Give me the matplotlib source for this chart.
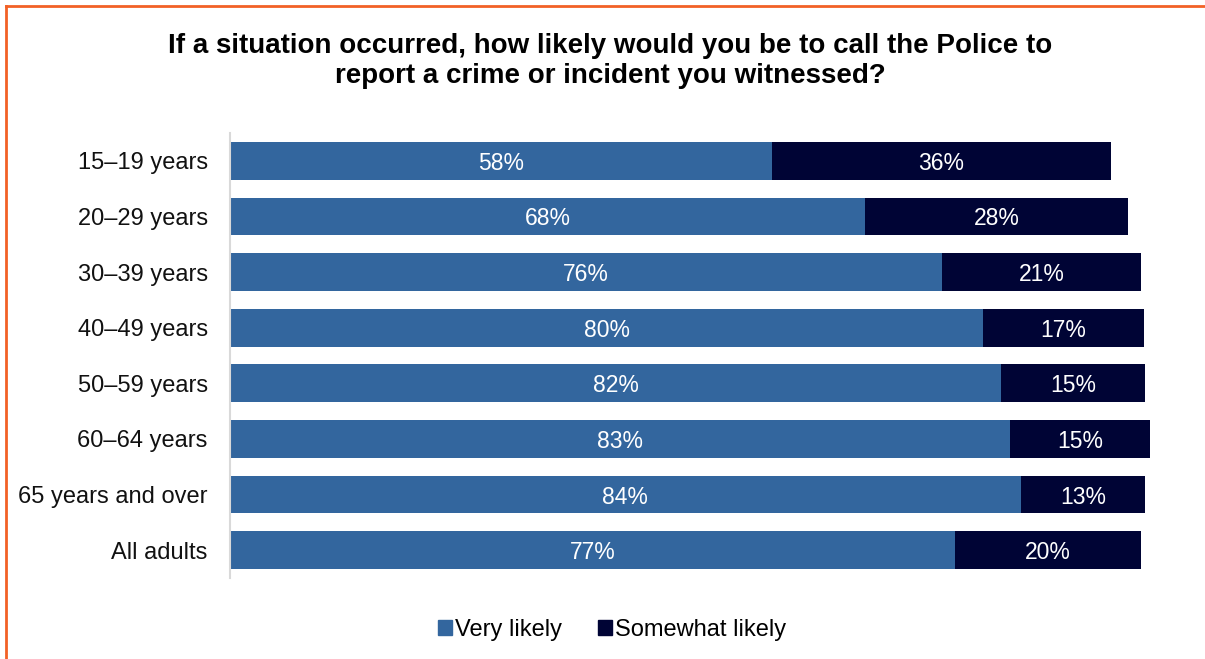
import matplotlib.pyplot as plt
from matplotlib.lines import Line2D
from matplotlib.patches import Patch

plt.rcParams['font.family'] = ['Liberation Sans', 'DejaVu Sans']

# data
groups = ["15–19 years", "20–29 years", "30–39 years", "40–49 years",
          "50–59 years", "60–64 years", "65 years and over", "All adults"]
very_likely = [57.8, 67.8, 76.0, 80.4, 82.3, 83.2, 84.4, 77.4]
somewhat_likely = [36.2, 28.0, 21.2, 17.1, 15.4, 15.0, 13.3, 19.8]

blue = '#33669e'
navy = '#000435'

fig = plt.figure(figsize=(12.05, 6.59), dpi=100)
W, H = 1205, 659
ax = fig.add_axes([230 / W, 1 - 578 / H, 937 / W, 445 / H])

y = list(range(len(groups)))
ax.barh(y, very_likely, height=0.68, color=blue, label='Very likely')
ax.barh(y, somewhat_likely, left=very_likely, height=0.68, color=navy, label='Somewhat likely')

for i in y:
    v = very_likely[i]
    s = somewhat_likely[i]
    ax.text(v / 2, i, f"{v:.0f}%", ha='center', va='center_baseline', color='white', fontsize=16.5)
    ax.text(v + s / 2, i, f"{s:.0f}%", ha='center', va='center_baseline', color='white', fontsize=16.5)

ax.set_xlim(0, 100)
ax.set_ylim(len(groups) - 0.5, -0.5)
ax.set_yticks(y)
ax.set_yticklabels(groups, fontsize=17, color='#111111')
ax.tick_params(axis='y', length=0, pad=16)
ax.set_xticks([])
for sp in ['top', 'right', 'bottom']:
    ax.spines[sp].set_visible(False)
ax.spines['left'].set_color('#d9d9d9')
ax.spines['left'].set_linewidth(1.5)

fig.text(610 / W, 1 - 61 / H,
         "If a situation occurred, how likely would you be to call the Police to\nreport a crime or incident you witnessed?",
         ha='center', va='center', fontsize=20, fontweight='bold', linespacing=1.2)

handles = [Patch(color=blue, label='Very likely'), Patch(color=navy, label='Somewhat likely')]
fig.legend(handles=handles, loc='center', bbox_to_anchor=(612 / W, 1 - 630 / H), ncol=2,
           frameon=False, fontsize=17, handlelength=0.6, handleheight=0.6,
           handletextpad=0.15, columnspacing=1.5)

# orange frame on top and left
orange = '#f26126'
fig.add_artist(Line2D([6 / W, 1], [1 - 6 / H, 1 - 6 / H], color=orange, lw=2, transform=fig.transFigure))
fig.add_artist(Line2D([6 / W, 6 / W], [0, 1 - 6 / H], color=orange, lw=2, transform=fig.transFigure))

fig.savefig('out.png', dpi=100)
